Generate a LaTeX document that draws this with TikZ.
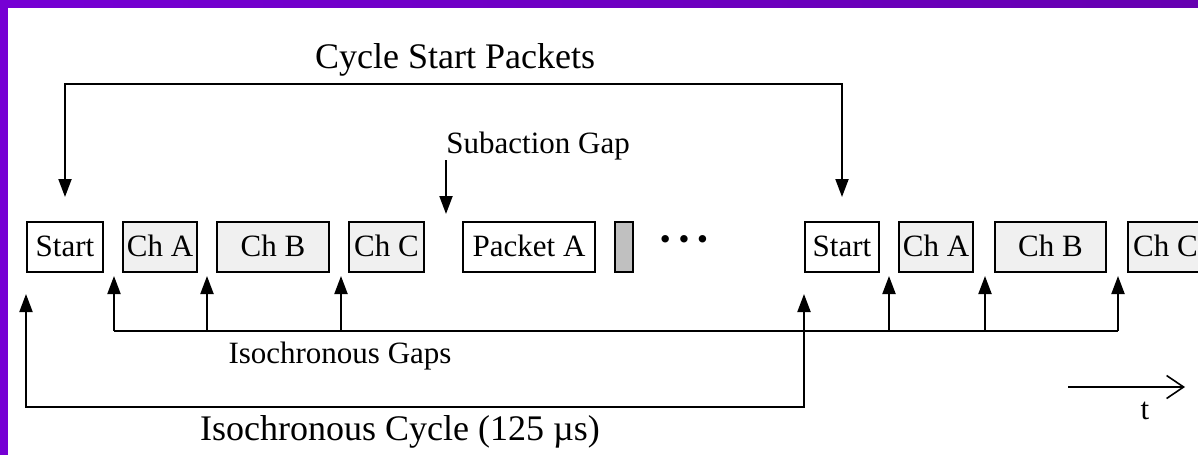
\documentclass[tikz,border=0pt]{standalone}
\usepackage{fontspec}
\setmainfont{Liberation Serif}
\usetikzlibrary{arrows.meta}
\definecolor{chgray}{RGB}{240,240,240}
\definecolor{bargray}{RGB}{192,192,192}
\definecolor{purpA}{RGB}{118,0,212}
\definecolor{purpB}{RGB}{102,0,176}
\tikzset{
  small/.style={font=\fontsize{15.5}{18}\selectfont},
  big/.style={font=\fontsize{18}{21}\selectfont},
  pkt/.style={draw, line width=1pt, fill=white, minimum height=25pt, inner sep=0pt,
    text height=11pt, text depth=2pt, small},
  chan/.style={pkt, fill=chgray},
  tip/.style={-{Triangle[length=9pt,width=6.5pt]}, line width=1pt},
  dtip/.style={{Triangle[length=9pt,width=6.5pt]}-{Triangle[length=9pt,width=6.5pt]}, line width=1pt},
  tarr/.style={-{Straight Barb[length=8.5pt,width=11.5pt]}, line width=0.8pt}
}

\begin{document}
\begin{tikzpicture}[x=0.5pt,y=-0.5pt]
\clip (0,0) rectangle (1198,455);
\fill[white] (0,0) rectangle (1198,455);
% frame
\shade[left color=purpA, right color=purpB] (0,0) rectangle (1198,7);
\fill[purpA] (0,0) rectangle (8,455);

% packets of one cycle
\node[pkt, minimum width=38pt] (start) at (65,247) {Start};
\node[chan, minimum width=37pt] (cha) at (160,247) {Ch A};
\node[chan, minimum width=56pt] (chb) at (273,247) {Ch B};
\node[chan, minimum width=37.5pt] (chc) at (386.5,247) {Ch C};
\node[pkt, minimum width=66pt] (pkta) at (529,247) {Packet A};
\node[pkt, fill=bargray, minimum width=9pt] (bar) at (624,247) {};
\node[small, inner sep=0pt] (dots) at (684,243) {• • •};
% next cycle
\node[pkt, minimum width=37pt] (start2) at (842,247) {Start};
\node[chan, minimum width=37pt] (cha2) at (936,247) {Ch A};
\node[chan, minimum width=55.5pt] (chb2) at (1050.5,247) {Ch B};
\node[chan, minimum width=37.5pt] (chc2) at (1165.5,247) {Ch C};

% labels
\node[big, anchor=base] (csp) at (455,68) {Cycle Start Packets};
\node[small, anchor=base west, inner sep=0pt] (sgap) at (446,153) {Subaction Gap};
\node[small, anchor=base] (igaps) at (340,363) {Isochronous Gaps};
\node[big, anchor=base] (icyc) at (400,440) {Isochronous Cycle (125 µs)};
\node[small, anchor=base] (tlab) at (1145,419) {t};

\coordinate (topline) at (0,84);
\coordinate (gapline) at (0,331);
\coordinate (cycline) at (0,407);

% cycle start packets
\draw[dtip] ([yshift=12pt]start.north) -- (start.north |- topline)
  -| ([yshift=12pt]start2.north);

% subaction gap
\draw[tip] ([yshift=-3.5pt]sgap.base west) -- ([yshift=3.5pt]sgap.base west |- chc.north);

% isochronous gaps
\coordinate (g1) at (114,331);
\coordinate (g2) at (207,331);
\coordinate (g3) at (341,331);
\coordinate (g4) at (889,331);
\coordinate (g5) at (985,331);
\coordinate (g6) at (1118,331);
\draw[line width=1pt] (g1) -- (g6);
\foreach \g in {g1,g2,g3,g4,g5,g6}
  \draw[tip] (\g) -- ([yshift=-1.5pt]\g |- start.south);

% isochronous cycle
\draw[dtip] ([yshift=-10.5pt]start.south west) -- (start.south west |- cycline)
  -| ([yshift=-10.5pt]start2.south west);

% time axis
\coordinate (t0) at (1068,387);
\coordinate (t1) at (1185,387);
\draw[tarr] (t0) -- (t1);
\end{tikzpicture}
\end{document}
